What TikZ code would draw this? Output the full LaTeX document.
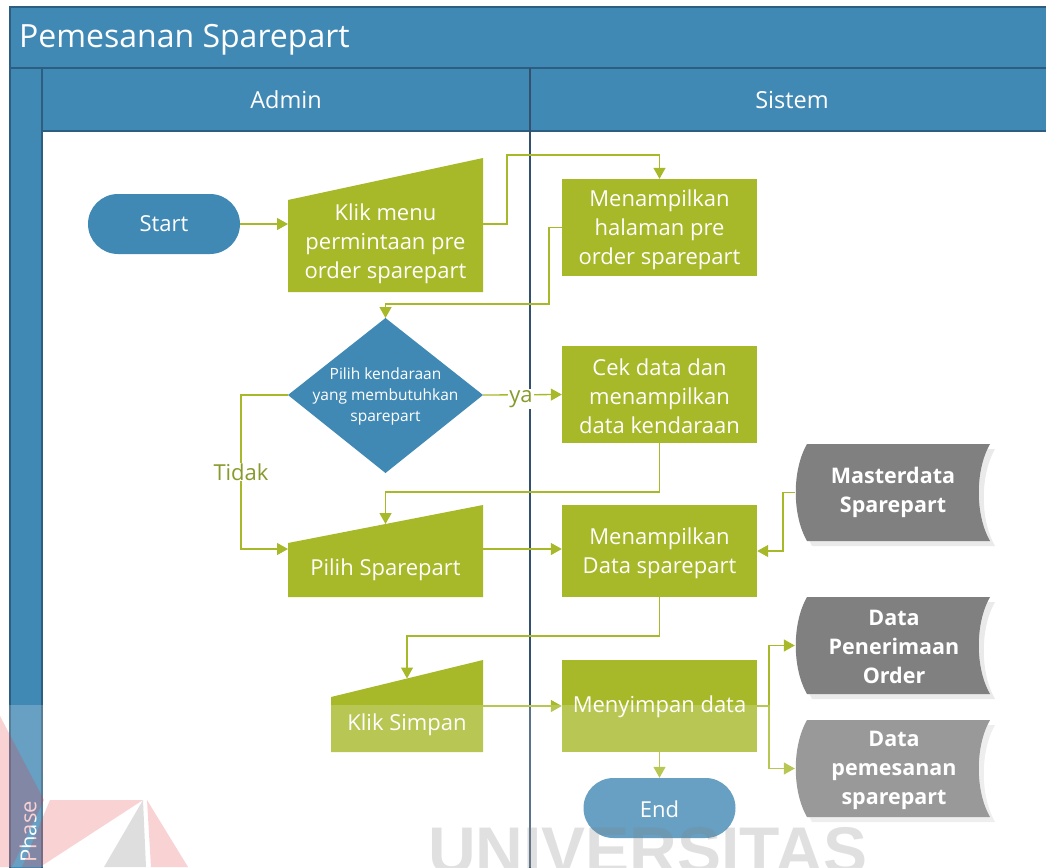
\documentclass[tikz,border=0pt]{standalone}
\usepackage{fontspec}
\setmainfont{Open Sans}
\newfontfamily\markfont{Liberation Sans}
\usetikzlibrary{arrows.meta,calc}

\definecolor{laneblue}{HTML}{4189B5}
\definecolor{laneline}{HTML}{2D5D80}
\definecolor{divline}{HTML}{33506C}
\definecolor{stepgreen}{HTML}{A7B828}
\definecolor{labelgreen}{HTML}{879A2A}
\definecolor{storegray}{HTML}{808080}
\definecolor{storeshade}{HTML}{EAEAEA}
\definecolor{logored}{HTML}{E2323C}
\definecolor{logogray}{HTML}{8A8A8A}
\definecolor{markgray}{HTML}{808080}

% stored-data symbol: left edge bulges out, right edge curves in
\newcommand\drawstore[3]{%
  \fill[storeshade,shift={(#1+5,#2+5)}] (12,0) -- (195,0) .. controls (180,26) and (180,71) .. (195,97)
     -- (12,97) .. controls (-3,71) and (-3,26) .. (12,0) -- cycle;
  \fill[#3,shift={(#1,#2)}] (12,0) -- (195,0) .. controls (180,26) and (180,71) .. (195,97)
     -- (12,97) .. controls (-3,71) and (-3,26) .. (12,0) -- cycle;}

\tikzset{
  flow/.style={draw=stepgreen, line width=1.3pt, -{Triangle[length=11pt,width=12pt]}},
  link/.style={draw=stepgreen, line width=1.3pt},
  proc/.style={fill=stepgreen, text=white, minimum width=195pt, minimum height=97pt,
               inner sep=0pt, align=center, font=\fontsize{22}{29}\selectfont},
  txt/.style={text=white, align=center, inner sep=0pt, font=\fontsize{22}{29}\selectfont},
  term/.style={fill=laneblue, text=white, rounded corners=30pt, minimum width=152pt,
               minimum height=60pt, inner sep=0pt, font=\fontsize{22}{29}\selectfont},
  storetxt/.style={text=white, align=center, inner sep=0pt, font=\bfseries\fontsize{21.5}{29}\selectfont},
  lbl/.style={fill=white, text=labelgreen, inner sep=1pt, font=\fontsize{22}{26}\selectfont},
  lanehead/.style={text=white, inner sep=0pt, font=\fontsize{23.5}{28}\selectfont},
}

\begin{document}
\begin{tikzpicture}[x=1pt,y=-1pt]
\useasboundingbox (0,0) rectangle (1046,867);
\clip (0,0) rectangle (1046,867);

% pool, lanes and phase column
\fill[laneblue] (10,7) rectangle (1060,68);
\fill[laneblue] (10,68) rectangle (1060,131);
\fill[laneblue] (10,68) rectangle (42,880);
\draw[laneline, line width=1.2pt] (10,880) -- (10,7) -- (1060,7);
\draw[laneline, line width=1.2pt] (10,68) -- (1060,68);
\draw[laneline, line width=1.2pt] (42,68) -- (42,880);
\draw[laneline, line width=1.2pt] (42,131) -- (1060,131);
\draw[divline, line width=1.2pt] (530,68) -- (530,880);

\node[anchor=west, text=white, inner sep=0pt, font=\fontsize{32}{36}\selectfont] (title) at (19,40) {Pemesanan Sparepart};
\node[lanehead] (admin) at (286,100) {Admin};
\node[lanehead] (sistem) at (792,100) {Sistem};
\node[rotate=90, text=white, inner sep=0pt, font=\fontsize{22}{26}\selectfont] (phase) at (28,832) {Phase};

% start
\node[term] (start) at (164,224) {Start};

% manual input: Klik menu
\fill[stepgreen] (288,200) -- (483,158) -- (483,292) -- (288,292) -- cycle;
\node[txt] (klik) at (385.5,244) {Klik menu\\permintaan pre\\order sparepart};
\coordinate (klik-w) at (288,224);
\coordinate (klik-e) at (483,224);

\node[proc] (hal) at (659.5,227.5) {};
\node[txt] (haltext) at (659.5,229.5) {Menampilkan\\halaman pre\\order sparepart};

% decision
\fill[laneblue] (385.5,318) -- (483,395) -- (385.5,473) -- (288,395) -- cycle;
\coordinate (dec-n) at (385.5,318);
\coordinate (dec-e) at (483,395);
\coordinate (dec-w) at (288,395);
\node[text=white, align=center, inner sep=0pt, font=\fontsize{15.5}{21}\selectfont] (dec) at (385.5,396.5)
  {Pilih kendaraan\\yang membutuhkan\\sparepart};

\node[proc] (cek) at (659.5,394.5) {};
\node[txt] (cektext) at (659.5,396.5) {Cek data dan\\menampilkan\\data kendaraan};

% manual input: Pilih Sparepart
\fill[stepgreen] (288,543) -- (483,505) -- (483,597) -- (288,597) -- cycle;
\node[txt] (pilih) at (385.5,570) {Pilih Sparepart};
\coordinate (pilih-n) at (385.5,524);
\coordinate (pilih-w) at (288,549);
\coordinate (pilih-e) at (483,549);

\node[proc, minimum height=92pt] (dsp) at (659.5,551) {};
\node[txt] (dsptext) at (659.5,553) {Menampilkan\\Data sparepart};

% master data
\drawstore{795}{444}{storegray}
\node[minimum width=195pt, minimum height=97pt, inner sep=0pt] (master) at (892.5,492.5) {};
\node[storetxt] (mastertext) at (893,492) {Masterdata\\Sparepart};

% manual input: Klik Simpan
\fill[stepgreen] (331,697) -- (483,660) -- (483,752) -- (331,752) -- cycle;
\node[txt] (simpan) at (407,725) {Klik Simpan};
\coordinate (simpan-n) at (407,678.5);
\coordinate (simpan-e) at (483,706);

\node[proc, minimum height=92pt] (save) at (659.5,706) {};
\node[txt] (savetext) at (659.5,707) {Menyimpan data};

% output data stores
\drawstore{795}{597}{storegray}
\node[minimum width=195pt, minimum height=97pt, inner sep=0pt] (terima) at (892.5,645.5) {};
\node[storetxt] (terimatext) at (894,647) {Data\\Penerimaan\\Order};
\drawstore{795}{720}{storegray}
\node[minimum width=195pt, minimum height=97pt, inner sep=0pt] (pesan) at (892.5,768.5) {};
\node[storetxt] (pesantext) at (894,770) {Data\\pemesanan\\sparepart};

% end
\node[term] (end) at (659.5,808) {};
\node[txt] (endtext) at (659.5,809) {End};

% connectors
\draw[flow] (start.east) -- (klik-w);
\draw[flow] (klik-e) -- (507,224) -- (507,155) -| (hal.north);
\draw[flow] (hal.west) -- (549,227.5) -- (549,304) -| (dec-n);
\draw[flow] (dec-e) -- (cek.west);
\node[lbl] (ya) at (521,399) {ya};
\draw[flow] (dec-w) -- (241,395) -- (241,549) -- (pilih-w);
\node[lbl] (tidak) at (241,472) {Tidak};
\draw[flow] (cek.south) -- (659.5,492) -| (pilih-n);
\draw[flow] (pilih-e) -- (dsp.west |- pilih-e);
\draw[flow] (master.west) -- (783,492.5) |- (dsp.east);
\draw[flow] (dsp.south) -- (659.5,636) -| (simpan-n);
\draw[flow] (simpan-e) -- (save.west);
\coordinate (split) at (769,706);
\draw[link] (save.east) -- (split);
\draw[flow] (split) |- (terima.west);
\draw[flow] (split) |- (pesan.west);
\draw[flow] (save.south) -- (end.north);

% faded lower strip of the page
\fill[white, opacity=0.2] (0,705) rectangle (1046,867);

% watermark logo and lettering
\begin{scope}[fill opacity=0.22, text opacity=0.24]
  \fill[logored] (0,716) -- (44,800) -- (12,867) -- (0,867) -- cycle;
  \fill[logored] (50,800) -- (143,800) -- (40,867) -- (22,867) -- cycle;
  \fill[logogray, fill opacity=0.28] (143,800) -- (104,867) -- (146,867) -- cycle;
  \fill[logored] (147,800) -- (151,867) -- (188,867) -- cycle;
  \node[anchor=base west, inner sep=0pt, text=markgray,
        font=\markfont\bfseries\fontsize{66}{66}\selectfont] (mark) at (428,873) {UNIVERSITAS};
\end{scope}
\end{tikzpicture}
\end{document}
